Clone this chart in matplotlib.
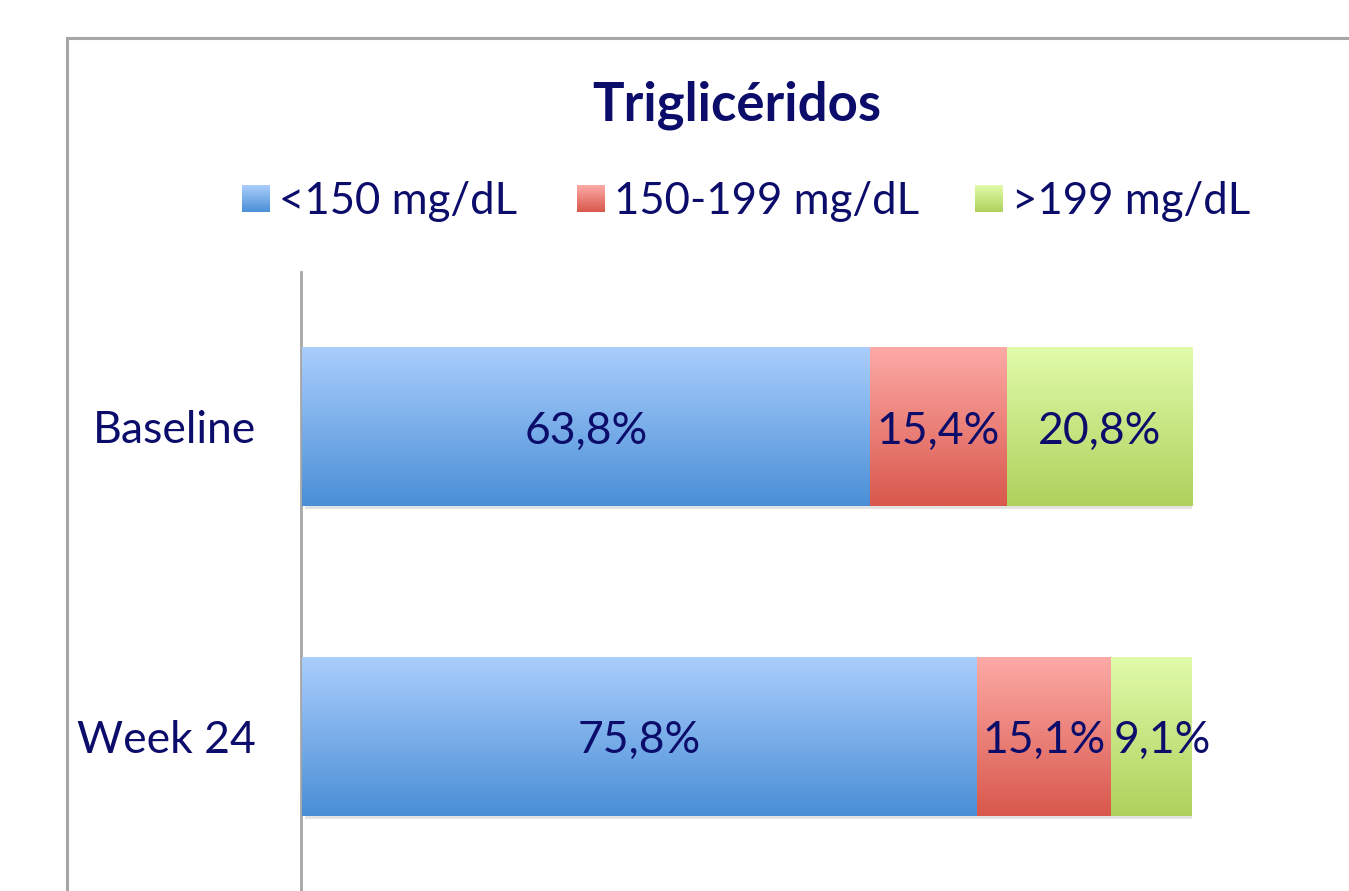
import numpy as np
import matplotlib.pyplot as plt
import matplotlib.patheffects as pe
from matplotlib.patches import Rectangle

categories = ['Baseline', 'Week 24']
series_names = ['<150 mg/dL', '150-199 mg/dL', '>199 mg/dL']
values = {
    '<150 mg/dL': [63.8, 75.8],
    '150-199 mg/dL': [15.4, 15.1],
    '>199 mg/dL': [20.8, 9.1],
}
labels = {
    '<150 mg/dL': ['63,8%', '75,8%'],
    '150-199 mg/dL': ['15,4%', '15,1%'],
    '>199 mg/dL': ['20,8%', '9,1%'],
}
# top / bottom colour of each gradient
grad = {
    '<150 mg/dL': ('#aacefd', '#4a8fd6'),
    '150-199 mg/dL': ('#fdaaa6', '#d9584c'),
    '>199 mg/dL': ('#e1fbaa', '#afd15c'),
}
txt = '#0c0c6b'

plt.rcParams['font.family'] = ['Lato', 'DejaVu Sans']


def gradient_img(top, bottom, n=64):
    c1 = np.array(plt.matplotlib.colors.to_rgb(top))
    c2 = np.array(plt.matplotlib.colors.to_rgb(bottom))
    t = np.linspace(0, 1, n)[:, None]
    return (c1 * (1 - t) + c2 * t)[:, None, :]


W, H = 1349, 891
fig = plt.figure(figsize=(W / 100, H / 100), dpi=100)

# outer chart frame (runs past the right and bottom edges)
fig.patches.append(Rectangle((67 / W, -0.1), 1.2, 1 - 38 / H + 0.1,
                             transform=fig.transFigure, fill=False,
                             edgecolor='#a6a6a6', linewidth=2.2))

ax = fig.add_axes([302 / W, 0, 890 / W, (H - 272) / H])
for s in ['top', 'right', 'bottom']:
    ax.spines[s].set_visible(False)
ax.spines['left'].set_color('#a6a6a6')
ax.spines['left'].set_linewidth(2)
ax.spines['left'].set_position(('outward', 1))

ypos = np.arange(len(categories))[::-1]
bar_h = 0.515

left = np.zeros(len(categories))
for name in series_names:
    vals = np.array(values[name])
    bars = ax.barh(ypos, vals, height=bar_h, left=left, color='white',
                   edgecolor='none', zorder=2,
                   path_effects=[pe.SimplePatchShadow(offset=(2, -2), shadow_rgbFace='#b0b0b0', alpha=0.35),
                                 pe.Normal()])
    img = gradient_img(*grad[name])
    for b, v, l, y, lab in zip(bars, vals, left, ypos, labels[name]):
        im = ax.imshow(img, extent=(l, l + v, y - bar_h / 2, y + bar_h / 2),
                       aspect='auto', zorder=3, interpolation='bilinear')
        im.set_clip_path(b)
        ax.text(l + v / 2 + (1.2 if v < 10 else 0), y - 0.015, lab, ha='center', va='center',
                fontsize=32, color=txt, zorder=4)
    left = left + vals

ax.set_xlim(0, 100)
ax.set_ylim(-0.5, 1.5)
ax.set_yticks(ypos)
ax.set_yticklabels(categories)
ax.tick_params(axis='y', length=0, pad=32, labelsize=32, labelcolor=txt)
ax.set_xticks([])

fig.text(737 / W, 1 - 105 / H, 'Triglicéridos', ha='center', va='center',
         fontsize=38, fontweight='bold', color=txt)

# legend with gradient squares
leg_x = [242, 577, 975]
for name, x in zip(series_names, leg_x):
    sq = fig.add_axes([x / W, 1 - 212 / H, 28 / W, 27 / H])
    sq.imshow(gradient_img(*grad[name]), aspect='auto', extent=(0, 1, 0, 1),
              interpolation='bilinear')
    sq.axis('off')
    fig.text((x + 37) / W, 1 - 202 / H, name, ha='left', va='center',
             fontsize=31.5, color=txt)

fig.savefig('out.png', dpi=100)
